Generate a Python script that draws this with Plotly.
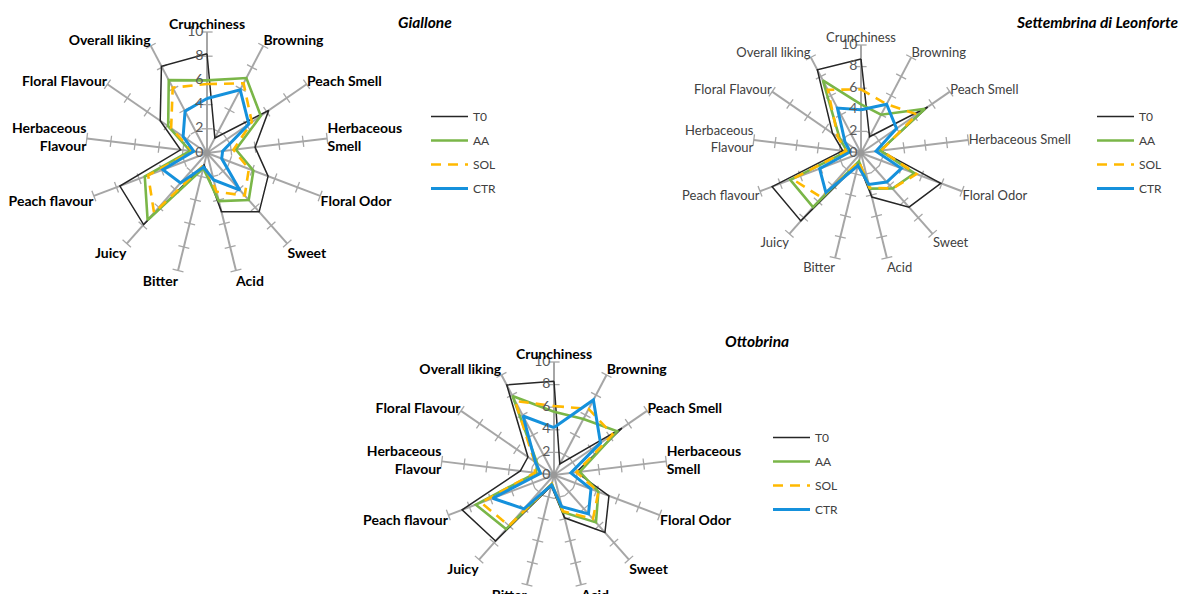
import plotly.graph_objects as go

W, H = 1181, 594

# ---------------- data ----------------
attributes = ["Crunchiness", "Browning", "Peach Smell", "Herbaceous Smell", "Floral Odor",
              "Sweet", "Acid", "Bitter", "Juicy", "Peach flavour", "Herbaceous Flavour",
              "Floral Flavour", "Overall liking"]
labels_bold = ["Crunchiness", "Browning", "Peach Smell", "Herbaceous<br>Smell", "Floral Odor",
               "Sweet", "Acid", "Bitter", "Juicy", "Peach flavour", "Herbaceous<br>Flavour",
               "Floral Flavour", "Overall liking"]
labels_plain = ["Crunchiness", "Browning", "Peach Smell", "Herbaceous Smell", "Floral Odor",
                "Sweet", "Acid", "Bitter", "Juicy", "Peach flavour", "Herbaceous<br>Flavour",
                "Floral Flavour", "Overall liking"]

series_names = ["T0", "AA", "SOL", "CTR"]
radial_ticks = [0, 2, 4, 6, 8, 10]

giallone_T0 = [8.2, 1.4, 6.2, 4.0, 5.4, 6.5, 5.0, 1.0, 7.9, 7.7, 2.2, 4.7, 8.1]
giallone_AA = [6.0, 7.0, 5.4, 2.4, 4.1, 5.2, 4.1, 1.3, 7.4, 5.5, 1.4, 3.9, 6.8]
giallone_SOL = [5.7, 6.5, 4.5, 2.2, 3.7, 4.7, 3.3, 1.0, 6.6, 5.2, 1.2, 3.6, 6.1]
giallone_CTR = [4.5, 5.9, 4.2, 1.3, 1.3, 4.1, 2.3, 1.2, 3.3, 3.9, 1.1, 2.4, 3.9]

settembrina_T0 = [8.7, 1.7, 7.5, 1.8, 7.9, 6.7, 4.2, 1.0, 8.4, 8.8, 1.7, 3.2, 8.7]
settembrina_AA = [4.5, 4.0, 7.2, 1.8, 5.3, 4.4, 3.4, 0.8, 6.7, 7.0, 1.3, 2.4, 7.6]
settembrina_SOL = [5.9, 5.1, 6.3, 1.9, 5.5, 4.4, 3.3, 0.8, 5.5, 6.8, 1.4, 2.6, 6.6]
settembrina_CTR = [4.0, 5.1, 4.0, 1.4, 4.0, 3.6, 3.0, 1.2, 4.9, 4.1, 1.0, 1.8, 4.7]

ottobrina_T0 = [8.3, 1.1, 7.3, 2.0, 5.2, 6.8, 3.9, 1.0, 7.8, 8.7, 3.0, 2.8, 9.0]
ottobrina_AA = [5.6, 5.6, 6.8, 2.3, 4.2, 5.6, 3.4, 0.8, 6.4, 7.4, 1.6, 1.8, 7.9]
ottobrina_SOL = [6.1, 6.6, 6.3, 2.0, 4.2, 5.2, 3.3, 0.8, 6.0, 6.9, 1.7, 2.1, 7.4]
ottobrina_CTR = [4.2, 7.5, 5.0, 1.5, 3.5, 4.6, 2.9, 0.9, 4.0, 5.8, 1.2, 2.0, 5.9]

charts = [
    dict(title="Giallone", labels=labels_bold, bold=True,
         data=[giallone_T0, giallone_AA, giallone_SOL, giallone_CTR]),
    dict(title="Settembrina di Leonforte", labels=labels_plain, bold=False,
         data=[settembrina_T0, settembrina_AA, settembrina_SOL, settembrina_CTR]),
    dict(title="Ottobrina", labels=labels_bold, bold=True,
         data=[ottobrina_T0, ottobrina_AA, ottobrina_SOL, ottobrina_CTR]),
]

# ---------------- layout / style ----------------
geom = [  # (centre x px, centre y px, radius px)
    (207, 153, 121),
    (861, 153, 108),
    (554, 475, 113),
]
legend_pos = [(426, 102), (1092, 102), (768, 423)]
title_pos = [(454, 22, "right"), (1181, 22, "right"), (791, 341, "right")]

styles = {
    "T0": dict(color="#262626", width=1.5, dash="solid"),
    "AA": dict(color="#7ab648", width=2.6, dash="solid"),
    "SOL": dict(color="#ffb900", width=2.6, dash="10px,7px"),
    "CTR": dict(color="#1591dc", width=3.0, dash="solid"),
}
spoke_color = "#a6a6a6"
FONT = "Lato"

fig = go.Figure()
n = len(attributes)
step = 360.0 / n

for ci, ch in enumerate(charts):
    pname = "polar" if ci == 0 else f"polar{ci + 1}"
    sub = pname
    lname = "legend" if ci == 0 else f"legend{ci + 1}"
    labels = ch["labels"]

    # tick marks on every spoke
    tr, tt, ta = [], [], []
    for k, lab in enumerate(labels):
        for v in radial_ticks[1:]:
            tr.append(v)
            tt.append(lab)
            ta.append(k * step)
    fig.add_trace(go.Scatterpolar(
        r=tr, theta=tt, mode="markers", subplot=sub, showlegend=False, hoverinfo="skip",
        marker=dict(symbol="line-ew", size=8, angle=ta,
                    line=dict(color=spoke_color, width=1.3))))
    # centre hub
    fig.add_trace(go.Scatterpolar(
        r=[0], theta=[labels[0]], mode="markers", subplot=sub, showlegend=False,
        hoverinfo="skip", marker=dict(size=7, color="#999999")))

    for si, name in enumerate(series_names):
        vals = ch["data"][si]
        st = styles[name]
        fig.add_trace(go.Scatterpolar(
            r=vals + [vals[0]], theta=labels + [labels[0]], mode="lines", name=name,
            subplot=sub, legend=lname, legendgroup=f"{ci}{name}",
            line=dict(color=st["color"], width=st["width"], dash=st["dash"]),
            hoverinfo="skip"))

    # radial value labels, left of the first spoke
    fig.add_trace(go.Scatterpolar(
        r=radial_ticks, theta=[labels[0]] * len(radial_ticks), mode="text",
        text=[str(v) + "\u00a0" for v in radial_ticks], textposition="middle left",
        textfont=dict(family=FONT, size=14, color="#595959"),
        subplot=sub, showlegend=False, hoverinfo="skip"))

    cx, cy, R = geom[ci]
    tickfont = dict(family=FONT, size=14 if ch["bold"] else 13,
                    color="#000000" if ch["bold"] else "#404040",
                    weight="bold" if ch["bold"] else "normal")
    fig.update_layout(**{pname: dict(
        domain=dict(x=[(cx - R) / W, (cx + R) / W], y=[1 - (cy + R) / H, 1 - (cy - R) / H]),
        bgcolor="rgba(0,0,0,0)",
        angularaxis=dict(direction="clockwise", rotation=90, type="category",
                         categoryorder="array", categoryarray=labels,
                         showgrid=True, gridcolor=spoke_color, gridwidth=1.5,
                         showline=False, ticks="", tickfont=tickfont),
        radialaxis=dict(range=[0, 10], tickvals=radial_ticks, angle=90,
                        showgrid=False, showline=False, ticks="", showticklabels=False),
    )})

    lx, ly = legend_pos[ci]
    fig.update_layout(**{lname: dict(
        x=lx / W, y=1 - ly / H, xanchor="left", yanchor="top", itemwidth=37,
        bgcolor="rgba(0,0,0,0)", font=dict(family=FONT, size=12, color="#404040"),
        traceorder="grouped", tracegroupgap=5, itemclick=False)})

    tx, ty, anc = title_pos[ci]
    fig.add_annotation(x=tx / W, y=1 - ty / H, xref="paper", yref="paper", xanchor=anc,
                       yanchor="middle", showarrow=False, text=ch["title"],
                       font=dict(family=FONT, size=15.5, color="#000000", weight="bold",
                                 style="italic"))

fig.update_layout(width=W, height=H, margin=dict(l=0, r=0, t=0, b=0),
                  paper_bgcolor="white", plot_bgcolor="white", showlegend=True)

fig.write_html("out.html")
